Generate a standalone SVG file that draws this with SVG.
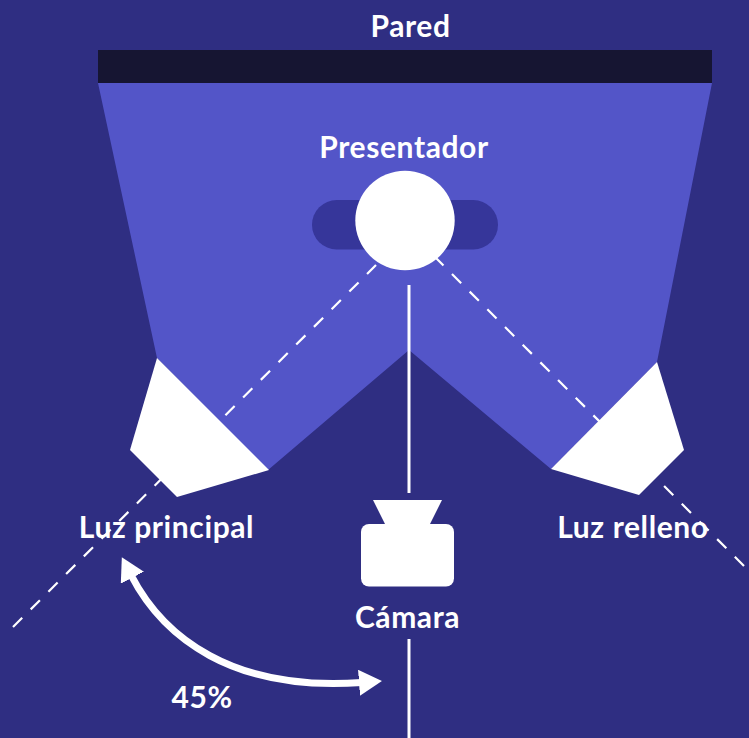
<svg xmlns="http://www.w3.org/2000/svg" width="749" height="738" viewBox="0 0 749 738">
<style>
.w{fill:#fff}
.t{fill:#fff;font-family:Lato,"Open Sans","Liberation Sans",sans-serif;font-weight:700;font-size:30px;letter-spacing:.6px;text-anchor:middle}
.d{stroke:#fff;stroke-width:2.200;stroke-dasharray:13 12;fill:none}
.s{stroke:#fff;stroke-width:3;fill:none}
</style>
<defs>
<marker id="a" markerUnits="userSpaceOnUse" markerWidth="26" markerHeight="28" refX="3" refY="13" orient="auto-start-reverse"><path d="M0,0L23,13L0,26Z" fill="#fff"/></marker>
</defs>
<rect width="749" height="738" fill="#2f2e82"/>
<polygon id="light-area" points="98,83 712,83 657,362 551,469 409,350 268,470 157,358" fill="#5355c8"/>
<g id="connectors">
<path class="d" d="M13,627L376,265"/>
<path class="d" d="M744,566L436,258"/>
<path class="s" d="M409,285V493"/>
<path class="s" d="M409,639V738"/>
<path d="M131,575C163,637 232,692 362,682.500" fill="none" stroke="#fff" stroke-width="7" marker-start="url(#a)" marker-end="url(#a)"/>
</g>
<g id="pared"><rect x="98" y="50" width="614" height="33" fill="#161532"/><text class="t" x="410.500" y="37">Pared</text></g>
<g id="presentador"><rect x="312" y="200" width="186" height="49.500" rx="24.700" fill="#36369a"/><circle class="w" cx="405" cy="220.500" r="49.700"/><text class="t" x="404" y="158">Presentador</text></g>
<g id="luz-principal"><polygon class="w" points="157,358 130,450 177,497 269,470"/><text class="t" x="166.500" y="538">Luz principal</text></g>
<g id="luz-relleno"><polygon class="w" points="657,362 684,450 639,495 551,469"/><text class="t" x="633" y="538">Luz relleno</text></g>
<g id="camara"><polygon class="w" points="373,500 442,500 429,526 386,526"/><rect class="w" x="361" y="524" width="93" height="62.500" rx="8"/><text class="t" x="407.500" y="628">Cámara</text></g>
<g id="angulo"><text class="t" x="202" y="708">45%</text></g>
</svg>
